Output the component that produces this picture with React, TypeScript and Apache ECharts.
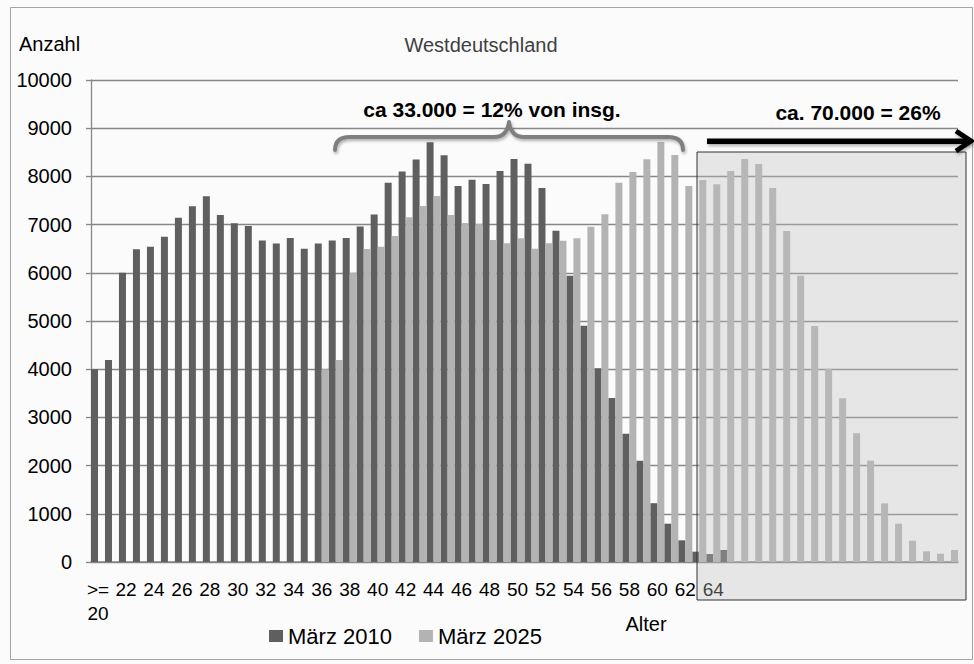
import React, { useEffect, useRef } from "react";
import * as echarts from "echarts";

// Age categories (x axis). Only every second label is shown; ages beyond 64 carry no label.
const categories: string[] = [
  ">= 20", "21", "22", "23", "24", "25", "26", "27", "28", "29",
  "30", "31", "32", "33", "34", "35", "36", "37", "38", "39",
  "40", "41", "42", "43", "44", "45", "46", "47", "48", "49",
  "50", "51", "52", "53", "54", "55", "56", "57", "58", "59",
  "60", "61", "62", "63", "64",
  "", "", "", "", "", "", "", "", "", "", "", "", "", "", "", "", "",
];

const maerz2010: (number | null)[] = [
  4000, 4190, 6000, 6490, 6540, 6750, 7140, 7380, 7590, 7200,
  7030, 6970, 6670, 6610, 6720, 6500, 6610, 6670, 6720, 6960,
  7210, 7870, 8100, 8350, 8710, 8440, 7800, 7930, 7840, 8110,
  8360, 8260, 7760, 6870, 5940, 4900, 4020, 3400, 2660, 2100,
  1220, 795, 450, 214, 166, 249,
  null, null, null, null, null, null, null, null,
  null, null, null, null, null, null, null, null,
];

const maerz2025: (number | null)[] = [
  null, null, null, null, null, null, null, null,
  null, null, null, null, null, null, null, null,
  4000, 4190, 6000, 6494, 6542, 6763, 7151, 7386, 7593, 7199,
  7033, 7010, 6680, 6612, 6716, 6500, 6612, 6666, 6716, 6957,
  7213, 7870, 8091, 8354, 8714, 8444, 7801, 7925, 7836, 8112,
  8361, 8257, 7759, 6867, 5940, 4896, 4010, 3396, 2670, 2102,
  1217, 795, 442, 222, 172, 249,
];

const seriesNames = ["März 2010", "März 2025"];
const yMin = 0;
const yMax = 10000;
const yInterval = 1000;

const FONT = "Liberation Sans, Arial, sans-serif";

const bracePath =
  "M335,150 Q335,137 350,137 L494,137 Q507,137 509,122 Q511,137 524,137 L668,137 Q683,137 683,150";

let braceRegistered = false;
function registerBrace() {
  if (braceRegistered) return;
  echarts.graphic.registerShape("brace", echarts.graphic.extendPath(bracePath, {}) as any);
  braceRegistered = true;
}

export default function App() {
  const ref = useRef<HTMLDivElement>(null);

  useEffect(() => {
    if (!ref.current) return;
    registerBrace();
    const chart = echarts.init(ref.current, null, { renderer: "svg" });
    const axisColor = "#878787";
    const shadow = {
      shadowBlur: 3,
      shadowColor: "rgba(0,0,0,0.3)",
      shadowOffsetX: 1,
      shadowOffsetY: 2,
    };
    chart.setOption({
      animation: false,
      backgroundColor: "#fbfbfb",
      grid: { left: 91, right: 16, top: 80, bottom: 102, containLabel: false },
      legend: {
        data: seriesNames,
        left: 269,
        top: 625,
        padding: 0,
        itemWidth: 14,
        itemHeight: 12,
        itemGap: 27,
        icon: "rect",
        textStyle: { fontFamily: FONT, fontSize: 22, color: "#000" },
      },
      xAxis: {
        type: "category",
        data: categories,
        boundaryGap: true,
        axisLine: { lineStyle: { color: axisColor, width: 1.5 } },
        axisTick: { interval: 0, length: 6, lineStyle: { color: axisColor, width: 1.3 } },
        axisLabel: {
          interval: 1,
          margin: 15,
          fontFamily: FONT,
          fontSize: 19,
          lineHeight: 24,
          color: "#000",
          formatter: (v: string) => v.replace(">= ", ">=\n"),
        },
        splitLine: { show: false },
      },
      yAxis: {
        type: "value",
        min: yMin,
        max: yMax,
        interval: yInterval,
        axisLine: { show: true, lineStyle: { color: axisColor, width: 1.3 } },
        axisTick: { show: true, length: 5, lineStyle: { color: axisColor, width: 1.3 } },
        axisLabel: {
          margin: 19,
          fontFamily: FONT,
          fontSize: 20,
          color: "#000",
          formatter: (v: number) => String(v),
        },
        splitLine: { lineStyle: { color: axisColor, width: 1.3 } },
      },
      series: [
        {
          name: seriesNames[0],
          type: "bar",
          data: maerz2010,
          itemStyle: { color: "#5f5f5f" },
          barGap: "0%",
          barCategoryGap: "0%",
        },
        {
          name: seriesNames[1],
          type: "bar",
          data: maerz2025,
          itemStyle: { color: "#b3b3b3" },
          barGap: "0%",
          barCategoryGap: "0%",
        },
      ],
      graphic: [
        {
          type: "rect",
          z: 1,
          silent: true,
          shape: { x: 10.5, y: 7.5, width: 962, height: 652 },
          style: { fill: "none", stroke: "#a3a3a3", lineWidth: 1 },
        },
        {
          type: "text",
          z: 50,
          x: 19,
          y: 44,
          style: { text: "Anzahl", font: `20px ${FONT}`, fill: "#000", verticalAlign: "middle", align: "left" },
        },
        {
          type: "text",
          z: 50,
          x: 481,
          y: 45,
          style: { text: "Westdeutschland", font: `20px ${FONT}`, fill: "#404040", verticalAlign: "middle", align: "center" },
        },
        {
          type: "text",
          z: 50,
          x: 646,
          y: 624,
          style: { text: "Alter", font: `20px ${FONT}`, fill: "#000", verticalAlign: "middle", align: "center" },
        },
        {
          type: "text",
          z: 50,
          x: 492,
          y: 109,
          style: { text: "ca 33.000 = 12% von insg.", font: `bold 21px ${FONT}`, fill: "#000", verticalAlign: "middle", align: "center" },
        },
        {
          type: "text",
          z: 50,
          x: 858,
          y: 112,
          style: { text: "ca. 70.000 = 26%", font: `bold 21px ${FONT}`, fill: "#000", verticalAlign: "middle", align: "center" },
        },
        {
          type: "brace",
          z: 60,
          x: 0,
          y: 0,
          silent: true,
          style: {
            fill: "none",
            stroke: "#7f7f7f",
            lineWidth: 4,
            lineCap: "round",
            lineJoin: "round",
            ...shadow,
          },
        },
        {
          type: "rect",
          z: 70,
          silent: true,
          shape: { x: 697, y: 152, width: 269, height: 448 },
          style: { fill: "rgba(190,190,190,0.34)", stroke: "#333333", lineWidth: 1 },
        },
        {
          type: "rect",
          z: 80,
          silent: true,
          shape: { x: 707, y: 138.5, width: 262, height: 5.5 },
          style: { fill: "#000", ...shadow },
        },
        {
          type: "polyline",
          z: 80,
          silent: true,
          shape: { points: [[956, 131], [971, 141], [956, 151]] },
          style: {
            stroke: "#000",
            fill: "none",
            lineWidth: 5,
            lineJoin: "miter",
            ...shadow,
          },
        },
      ],
    });
    return () => chart.dispose();
  }, []);

  return (
    <div
      ref={ref}
      style={{ position: "absolute", left: 0, top: 0, width: 974, height: 664 }}
    />
  );
}
